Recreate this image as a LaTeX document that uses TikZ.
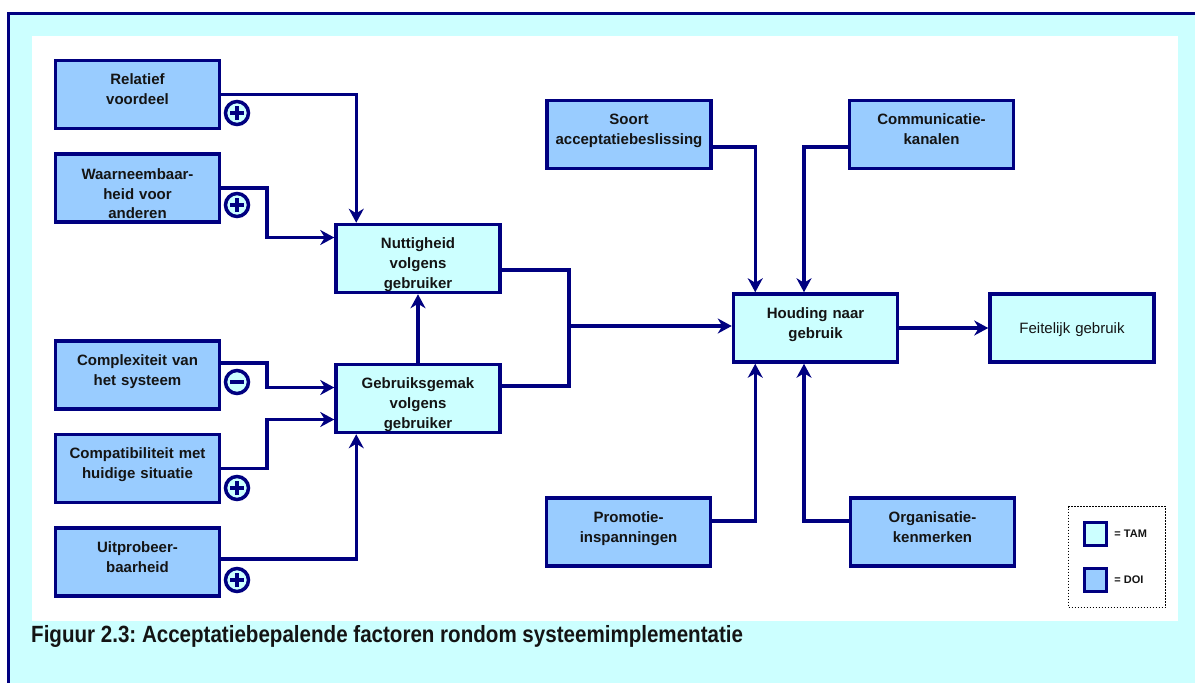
\documentclass[tikz,border=0pt]{standalone}
\usepackage{fontspec}
\setmainfont{Liberation Sans}
\usetikzlibrary{arrows.meta}
\frenchspacing

\definecolor{navy}{RGB}{0,0,128}
\definecolor{tamfill}{RGB}{204,255,255}
\definecolor{doifill}{RGB}{153,204,255}
\definecolor{inkt}{RGB}{20,20,20}

\tikzset{
  factor/.style={draw=navy, line width=3.5pt, minimum width=164pt, minimum height=68pt,
    inner sep=0pt, text width=160pt, align=center, text height=24pt, text depth=44pt,
    font=\bfseries\fontsize{15}{20}\selectfont, text=inkt},
  tam/.style={factor, fill=tamfill},
  doi/.style={factor, fill=doifill},
  link/.style={draw=navy, line width=3.5pt},
  pijl/.style={link, -{Stealth[length=14pt,width=15pt,inset=4.5pt]}},
  teken/.style={circle, draw=navy, fill=tamfill, line width=3.5pt, minimum size=23pt, inner sep=0pt},
  plusteken/.style={teken, path picture={
    \draw[navy, line width=3.5pt]
      ([xshift=-7pt]path picture bounding box.center) -- ([xshift=7pt]path picture bounding box.center)
      ([yshift=-7pt]path picture bounding box.center) -- ([yshift=7pt]path picture bounding box.center);}},
  minteken/.style={teken, path picture={
    \draw[navy, line width=3.5pt]
      ([xshift=-7pt]path picture bounding box.center) -- ([xshift=7pt]path picture bounding box.center);}},
  legbox/.style={draw=navy, line width=3.5pt, minimum width=22pt, minimum height=23pt, inner sep=0pt},
  legtekst/.style={anchor=west, inner sep=0pt, font=\bfseries\fontsize{11}{12}\selectfont, text=inkt}
}

\begin{document}
\begin{tikzpicture}[x=1pt, y=-1pt]
  \useasboundingbox (0,0) rectangle (1195,683);
  % achtergrond
  \fill[tamfill] (8.5,13.5) rectangle (1200,690);
  \draw[navy, line width=3.5pt] (1200,13.5) -| (8.5,690);
  \fill[white] (32,36) rectangle (1178,621);

  % DOI-factoren links
  \node[doi] (rel)    at (137.5,94.5) {Relatief\\voordeel};
  \node[doi, text height=25.5pt, text depth=42.5pt, font=\bfseries\fontsize{15}{19.5}\selectfont] (waar) at (137.5,188) {Waarneembaar-\\heid voor\\anderen};
  \node[doi] (comp)   at (137.5,375)  {Complexiteit van\\het systeem};
  \node[doi] (compat) at (137.5,468.5) {Compatibiliteit met\\huidige situatie};
  \node[doi] (uitp)   at (137.5,562)  {Uitprobeer-\\baarheid};

  \node[plusteken] (s1) at (237,113) {};
  \node[plusteken] (s2) at (237,205) {};
  \node[minteken]  (s3) at (237,382) {};
  \node[plusteken] (s4) at (237,488) {};
  \node[plusteken] (s5) at (237,580) {};

  % TAM
  \node[tam] (nut)  at (418,258.5) {Nuttigheid\\volgens\\gebruiker};
  \node[tam] (gem)  at (418,398.5) {Gebruiksgemak\\volgens\\gebruiker};
  \node[tam] (houd) at (815.5,328) {Houding naar\\gebruik};
  \node[tam, text height=39.5pt, text depth=28.5pt, font=\fontsize{15}{20}\selectfont] (feit) at (1072,328) {Feitelijk gebruik};

  % DOI-factoren rechts
  \node[doi] (soort) at (629,134.5)  {Soort\\acceptatiebeslissing};
  \node[doi] (comm)  at (931.5,134.5) {Communicatie-\\kanalen};
  \node[doi] (prom)  at (628.5,532)  {Promotie-\\inspanningen};
  \node[doi] (org)   at (932.5,532)  {Organisatie-\\kenmerken};

  % verbindingen
  \draw[pijl] (rel.east) -| ([xshift=22pt]nut.north west);
  \draw[pijl] (waar.east) -- ++(45.5,0) |- ([yshift=21pt]nut.west);
  \draw[pijl] ([yshift=12pt]comp.east) -- ++(45.5,0) |- ([yshift=11pt]gem.west);
  \draw[pijl] (compat.east) -- ++(45.5,0) |- ([yshift=-21pt]gem.west);
  \draw[pijl] ([yshift=3pt]uitp.east) -| ([xshift=22pt]gem.south west);
  \draw[pijl] (gem.north) -- (nut.south);

  \coordinate (knoop) at (569,326);
  \draw[link] ([yshift=-11.5pt]nut.east) -| (knoop);
  \draw[link] ([yshift=12.5pt]gem.east) -| (knoop);
  \draw[pijl] (knoop) -- (knoop -| houd.west);
  \draw[pijl] (houd.east) -- (feit.west);

  \draw[pijl] ([yshift=-12.5pt]soort.east) -| ([xshift=23.5pt]houd.north west);
  \draw[pijl] ([yshift=-12.5pt]comm.west) -| ([xshift=-11.5pt]houd.north);
  \draw[pijl] ([yshift=11pt]prom.east) -| ([xshift=23.5pt]houd.south west);
  \draw[pijl] ([yshift=11pt]org.west) -| ([xshift=-11.5pt]houd.south);

  % legenda
  \node[draw, line width=1.5pt, dash pattern=on 1.5pt off 1.5pt, minimum width=97pt, minimum height=101pt] (legenda) at (1117,557) {};
  \node[legbox, fill=tamfill] (ltam) at (1095.5,534) {};
  \node[legbox, fill=doifill] (ldoi) at (1095.5,580) {};
  \node[legtekst] (ttam) at ([xshift=6pt]ltam.east) {= TAM};
  \node[legtekst] (tdoi) at ([xshift=6pt]ldoi.east) {= DOI};

  % bijschrift
  \node[anchor=base west, inner sep=0pt, font=\bfseries\fontsize{23.5}{26}\selectfont, text=inkt] (bijschrift)
    at (31,642) {\scalebox{0.875}[1]{Figuur 2.3: Acceptatiebepalende factoren rondom systeemimplementatie}};
\end{tikzpicture}
\end{document}
